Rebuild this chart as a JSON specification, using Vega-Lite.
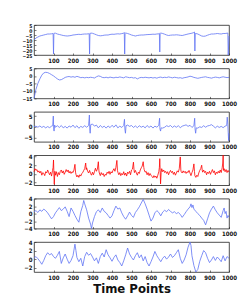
{
"$schema": "https://vega.github.io/schema/vega-lite/v6.json",
"padding": {"left": 5, "top": 22, "right": 5, "bottom": 2},
"background": "white",
"bounds": "flush",
"spacing": 13.4,
"datasets": {
"p1": [{"t":0,"v":-10},{"t":10,"v":-8},{"t":20,"v":-7},{"t":30,"v":-6},{"t":40,"v":-5.5},{"t":50,"v":-5},{"t":60,"v":-4.5},{"t":70,"v":-4},{"t":80,"v":-4},{"t":90,"v":-3.8},{"t":98,"v":-3.5},{"t":100,"v":-24},{"t":102,"v":-4},{"t":105,"v":-3},{"t":110,"v":-3.2},{"t":120,"v":-4},{"t":130,"v":-4.5},{"t":140,"v":-5},{"t":150,"v":-5.5},{"t":160,"v":-5.8},{"t":170,"v":-6},{"t":180,"v":-5.8},{"t":190,"v":-5.5},{"t":200,"v":-5},{"t":210,"v":-4.8},{"t":220,"v":-4.5},{"t":230,"v":-4.3},{"t":240,"v":-4.5},{"t":250,"v":-4.2},{"t":260,"v":-4},{"t":270,"v":-4},{"t":280,"v":-3.8},{"t":283,"v":-3.5},{"t":285,"v":-24},{"t":287,"v":-4},{"t":290,"v":-3},{"t":300,"v":-3.3},{"t":310,"v":-4},{"t":320,"v":-4.8},{"t":330,"v":-5.5},{"t":340,"v":-5.8},{"t":350,"v":-5.6},{"t":360,"v":-5.2},{"t":370,"v":-5},{"t":380,"v":-5},{"t":390,"v":-4.5},{"t":400,"v":-4.2},{"t":410,"v":-4.3},{"t":420,"v":-4},{"t":430,"v":-3.8},{"t":440,"v":-4},{"t":450,"v":-3.6},{"t":460,"v":-3.2},{"t":463,"v":-2.5},{"t":465,"v":-24},{"t":467,"v":-3.5},{"t":470,"v":-3},{"t":480,"v":-3.5},{"t":490,"v":-4.2},{"t":500,"v":-5},{"t":510,"v":-5.5},{"t":520,"v":-6},{"t":530,"v":-5.5},{"t":540,"v":-5.2},{"t":550,"v":-5},{"t":560,"v":-5},{"t":570,"v":-4.8},{"t":580,"v":-4.6},{"t":590,"v":-4.5},{"t":600,"v":-4.4},{"t":610,"v":-4.2},{"t":620,"v":-4.3},{"t":630,"v":-4},{"t":640,"v":-3.8},{"t":643,"v":-3.4},{"t":645,"v":-22},{"t":647,"v":-3.5},{"t":650,"v":-3},{"t":660,"v":-3.5},{"t":670,"v":-4.2},{"t":680,"v":-5},{"t":690,"v":-5.5},{"t":700,"v":-5.2},{"t":710,"v":-5},{"t":720,"v":-5},{"t":730,"v":-4.8},{"t":740,"v":-5},{"t":750,"v":-5.3},{"t":760,"v":-5.5},{"t":770,"v":-5},{"t":780,"v":-4.5},{"t":790,"v":-4},{"t":800,"v":-3.6},{"t":810,"v":-3.2},{"t":820,"v":-2.5},{"t":823,"v":-2},{"t":825,"v":-21},{"t":827,"v":-3.5},{"t":830,"v":-3.5},{"t":840,"v":-4},{"t":850,"v":-5},{"t":860,"v":-6},{"t":870,"v":-6.3},{"t":880,"v":-6},{"t":890,"v":-5.2},{"t":900,"v":-4.5},{"t":910,"v":-4},{"t":920,"v":-4},{"t":930,"v":-3.8},{"t":940,"v":-3.5},{"t":950,"v":-3.8},{"t":960,"v":-4},{"t":970,"v":-3.5},{"t":980,"v":-3.5},{"t":990,"v":-3.2},{"t":994,"v":-3},{"t":996,"v":-25},{"t":1000,"v":-6}],
"p2": [{"t":0,"v":-15},{"t":5,"v":-12},{"t":10,"v":-9},{"t":20,"v":-5},{"t":30,"v":-2},{"t":40,"v":0.5},{"t":50,"v":2},{"t":60,"v":2.4},{"t":70,"v":2.2},{"t":80,"v":1.6},{"t":90,"v":0.8},{"t":100,"v":0},{"t":110,"v":-1},{"t":120,"v":-2},{"t":130,"v":-2.7},{"t":140,"v":-2.5},{"t":150,"v":-1.8},{"t":160,"v":-1},{"t":170,"v":-0.6},{"t":180,"v":-0.4},{"t":190,"v":-0.8},{"t":200,"v":-0.5},{"t":210,"v":-0.9},{"t":220,"v":-0.3},{"t":230,"v":-0.7},{"t":240,"v":-1.2},{"t":250,"v":-1},{"t":260,"v":-1.3},{"t":270,"v":-1},{"t":280,"v":-1.2},{"t":290,"v":-0.9},{"t":300,"v":-1.1},{"t":310,"v":-1.4},{"t":320,"v":-0.6},{"t":330,"v":0},{"t":340,"v":-0.3},{"t":350,"v":-1},{"t":360,"v":-1.2},{"t":370,"v":-0.9},{"t":380,"v":-1.3},{"t":390,"v":-0.8},{"t":400,"v":-1.1},{"t":410,"v":-1.3},{"t":420,"v":-0.9},{"t":430,"v":-1.1},{"t":440,"v":-0.7},{"t":450,"v":-1},{"t":460,"v":-1.3},{"t":470,"v":-0.6},{"t":480,"v":-0.9},{"t":490,"v":-1.2},{"t":500,"v":-1},{"t":510,"v":-1.4},{"t":520,"v":-1.2},{"t":530,"v":-2},{"t":540,"v":-1.3},{"t":550,"v":-1},{"t":560,"v":-1.2},{"t":570,"v":-0.9},{"t":580,"v":-1.1},{"t":590,"v":-1.3},{"t":600,"v":-1},{"t":610,"v":-1.4},{"t":620,"v":-1.1},{"t":630,"v":-1.5},{"t":640,"v":-1},{"t":650,"v":-0.8},{"t":660,"v":-1.2},{"t":670,"v":-0.9},{"t":680,"v":-1.1},{"t":690,"v":-0.7},{"t":700,"v":-1},{"t":710,"v":-1.3},{"t":720,"v":-0.9},{"t":730,"v":-1.1},{"t":740,"v":-1.4},{"t":750,"v":-1.2},{"t":760,"v":-1.6},{"t":770,"v":-1.2},{"t":780,"v":-1},{"t":790,"v":-0.7},{"t":800,"v":-0.2},{"t":810,"v":-0.5},{"t":820,"v":-1},{"t":830,"v":-1.3},{"t":840,"v":-1.6},{"t":850,"v":-1.3},{"t":860,"v":-1},{"t":870,"v":-0.8},{"t":880,"v":-0.6},{"t":890,"v":-1},{"t":900,"v":-1.2},{"t":910,"v":-1.5},{"t":920,"v":-1.1},{"t":930,"v":-0.8},{"t":940,"v":-1},{"t":950,"v":-1.3},{"t":960,"v":-0.9},{"t":970,"v":-0.6},{"t":980,"v":-0.9},{"t":990,"v":-1.1},{"t":1000,"v":-1}],
"p3": [{"t":0,"v":0},{"t":10,"v":0.3},{"t":20,"v":-0.2},{"t":30,"v":0.4},{"t":40,"v":-0.3},{"t":50,"v":0.2},{"t":60,"v":-0.5},{"t":70,"v":0.1},{"t":80,"v":-0.4},{"t":90,"v":0.3},{"t":96,"v":0.5},{"t":99,"v":5},{"t":101,"v":-1},{"t":103,"v":-2},{"t":106,"v":0.8},{"t":110,"v":-0.2},{"t":120,"v":0.5},{"t":130,"v":-0.3},{"t":140,"v":0.6},{"t":150,"v":-0.5},{"t":160,"v":0.2},{"t":170,"v":-0.6},{"t":180,"v":0.4},{"t":190,"v":-0.2},{"t":200,"v":0.8},{"t":210,"v":-0.4},{"t":220,"v":0.5},{"t":230,"v":-0.7},{"t":240,"v":0.2},{"t":250,"v":-0.3},{"t":260,"v":0.5},{"t":270,"v":-0.2},{"t":280,"v":0.6},{"t":284,"v":5.5},{"t":286,"v":-1},{"t":288,"v":-3},{"t":291,"v":1},{"t":300,"v":1.3},{"t":310,"v":0.3},{"t":320,"v":0.8},{"t":330,"v":-0.5},{"t":340,"v":0.6},{"t":350,"v":-0.3},{"t":360,"v":0.3},{"t":370,"v":-0.6},{"t":380,"v":0.4},{"t":390,"v":-0.4},{"t":400,"v":0.7},{"t":410,"v":-0.2},{"t":420,"v":0.9},{"t":430,"v":-0.5},{"t":440,"v":0.3},{"t":450,"v":-0.3},{"t":460,"v":0.6},{"t":464,"v":3.5},{"t":466,"v":-1},{"t":469,"v":-3},{"t":472,"v":0.5},{"t":480,"v":0.8},{"t":490,"v":0.2},{"t":500,"v":0.6},{"t":510,"v":-0.3},{"t":520,"v":0.4},{"t":530,"v":-0.4},{"t":540,"v":0.5},{"t":550,"v":-0.2},{"t":560,"v":0.3},{"t":570,"v":-0.5},{"t":580,"v":0.6},{"t":590,"v":-0.3},{"t":600,"v":0.4},{"t":610,"v":-0.6},{"t":620,"v":0.3},{"t":630,"v":-0.2},{"t":640,"v":0.7},{"t":644,"v":4},{"t":646,"v":-1},{"t":649,"v":-2},{"t":652,"v":-0.5},{"t":660,"v":-0.6},{"t":670,"v":-0.2},{"t":680,"v":0.5},{"t":690,"v":0.1},{"t":700,"v":0.6},{"t":710,"v":-0.3},{"t":720,"v":0.4},{"t":730,"v":-0.2},{"t":740,"v":0.5},{"t":750,"v":-0.4},{"t":760,"v":0.3},{"t":770,"v":0.6},{"t":780,"v":0.9},{"t":790,"v":0.2},{"t":800,"v":0.7},{"t":810,"v":-0.3},{"t":820,"v":0.5},{"t":824,"v":4},{"t":826,"v":-1},{"t":829,"v":-3},{"t":832,"v":-0.5},{"t":840,"v":-0.6},{"t":850,"v":0},{"t":860,"v":-0.3},{"t":870,"v":0.5},{"t":880,"v":-0.2},{"t":890,"v":0.4},{"t":900,"v":0.6},{"t":910,"v":1},{"t":920,"v":0.3},{"t":930,"v":-0.5},{"t":940,"v":0.3},{"t":950,"v":-0.3},{"t":960,"v":0.2},{"t":970,"v":-0.4},{"t":980,"v":0.3},{"t":988,"v":0.6},{"t":991,"v":4.5},{"t":994,"v":1},{"t":998,"v":-6.5},{"t":1000,"v":-3}],
"p4": [{"t":0,"v":0.5},{"t":5,"v":1.2},{"t":10,"v":0.8},{"t":15,"v":1.0},{"t":20,"v":0.4},{"t":25,"v":0.7},{"t":30,"v":0.2},{"t":35,"v":0.6},{"t":40,"v":-0.3},{"t":45,"v":0.3},{"t":50,"v":0.1},{"t":55,"v":-0.4},{"t":60,"v":0.5},{"t":65,"v":0.2},{"t":70,"v":0.9},{"t":75,"v":0.3},{"t":80,"v":-0.2},{"t":85,"v":0.4},{"t":90,"v":-0.5},{"t":95,"v":0.8},{"t":98,"v":1.5},{"t":100,"v":3.2},{"t":102,"v":0.2},{"t":104,"v":-2.4},{"t":107,"v":0.6},{"t":110,"v":-0.3},{"t":115,"v":0.5},{"t":120,"v":-0.6},{"t":125,"v":0.3},{"t":130,"v":-0.2},{"t":135,"v":0.6},{"t":140,"v":0.9},{"t":145,"v":0.2},{"t":150,"v":0.7},{"t":155,"v":-0.1},{"t":160,"v":0.4},{"t":165,"v":1.0},{"t":170,"v":0.5},{"t":175,"v":0.9},{"t":180,"v":0.2},{"t":185,"v":0.6},{"t":190,"v":0.1},{"t":195,"v":0.5},{"t":200,"v":0.3},{"t":205,"v":0.9},{"t":210,"v":2.2},{"t":213,"v":0.4},{"t":215,"v":-0.1},{"t":220,"v":-0.7},{"t":225,"v":-0.3},{"t":230,"v":-0.8},{"t":235,"v":-0.2},{"t":240,"v":-0.5},{"t":245,"v":0.1},{"t":250,"v":0.3},{"t":255,"v":0.8},{"t":260,"v":1.2},{"t":265,"v":2.5},{"t":268,"v":1.0},{"t":270,"v":1.4},{"t":275,"v":0.6},{"t":280,"v":0.2},{"t":285,"v":0.8},{"t":290,"v":0.1},{"t":295,"v":-0.3},{"t":300,"v":0.4},{"t":305,"v":-0.2},{"t":310,"v":0.5},{"t":315,"v":1.3},{"t":320,"v":0.6},{"t":325,"v":1.1},{"t":330,"v":2.8},{"t":333,"v":0.7},{"t":335,"v":0.2},{"t":340,"v":-0.4},{"t":345,"v":0.3},{"t":350,"v":-0.2},{"t":355,"v":0.1},{"t":360,"v":-0.6},{"t":365,"v":-0.1},{"t":370,"v":-0.3},{"t":375,"v":0.4},{"t":380,"v":0.1},{"t":385,"v":0.6},{"t":390,"v":-0.1},{"t":395,"v":0.5},{"t":400,"v":0.2},{"t":405,"v":0.8},{"t":410,"v":1.2},{"t":415,"v":0.6},{"t":420,"v":1.5},{"t":425,"v":3.1},{"t":428,"v":0.8},{"t":430,"v":0.4},{"t":435,"v":-0.2},{"t":440,"v":0.3},{"t":445,"v":-0.4},{"t":450,"v":0.1},{"t":455,"v":-0.2},{"t":460,"v":0.5},{"t":465,"v":-0.3},{"t":470,"v":0.2},{"t":475,"v":-0.5},{"t":480,"v":0.4},{"t":485,"v":0.1},{"t":490,"v":0.6},{"t":495,"v":-0.2},{"t":500,"v":0.9},{"t":505,"v":1.1},{"t":510,"v":2.7},{"t":513,"v":0.9},{"t":515,"v":0.3},{"t":520,"v":0.8},{"t":525,"v":0.2},{"t":530,"v":-0.3},{"t":535,"v":0.4},{"t":540,"v":0.1},{"t":545,"v":0.9},{"t":550,"v":1.4},{"t":555,"v":1.8},{"t":560,"v":2.8},{"t":563,"v":1.5},{"t":565,"v":1.0},{"t":570,"v":0.4},{"t":575,"v":0.6},{"t":580,"v":-0.2},{"t":585,"v":0.3},{"t":590,"v":-0.4},{"t":595,"v":0.1},{"t":600,"v":-0.3},{"t":605,"v":-0.6},{"t":610,"v":-0.9},{"t":615,"v":-0.4},{"t":620,"v":-0.8},{"t":625,"v":-0.5},{"t":630,"v":-1.0},{"t":635,"v":-0.3},{"t":640,"v":0.5},{"t":643,"v":1.5},{"t":645,"v":3.5},{"t":647,"v":0.8},{"t":649,"v":-2.3},{"t":652,"v":0.3},{"t":655,"v":1.2},{"t":660,"v":0.5},{"t":665,"v":0.9},{"t":670,"v":0.3},{"t":675,"v":0.6},{"t":680,"v":0.1},{"t":685,"v":0.5},{"t":690,"v":-0.2},{"t":695,"v":0.4},{"t":700,"v":0.8},{"t":705,"v":0.3},{"t":710,"v":0.6},{"t":715,"v":-0.1},{"t":720,"v":0.4},{"t":725,"v":-0.3},{"t":730,"v":0.2},{"t":735,"v":0.7},{"t":740,"v":0.4},{"t":745,"v":1.2},{"t":750,"v":3.9},{"t":753,"v":0.9},{"t":755,"v":0.5},{"t":760,"v":0.2},{"t":765,"v":0.7},{"t":770,"v":0.3},{"t":775,"v":0.6},{"t":780,"v":0.1},{"t":785,"v":0.5},{"t":790,"v":0.3},{"t":795,"v":0.8},{"t":800,"v":0.2},{"t":805,"v":-0.4},{"t":810,"v":0.3},{"t":815,"v":0.9},{"t":820,"v":2.3},{"t":823,"v":0.5},{"t":825,"v":-0.4},{"t":830,"v":-0.8},{"t":835,"v":-0.3},{"t":840,"v":-0.6},{"t":845,"v":0.2},{"t":850,"v":0.8},{"t":855,"v":1.2},{"t":860,"v":2.0},{"t":863,"v":0.7},{"t":865,"v":0.4},{"t":870,"v":0.9},{"t":875,"v":0.3},{"t":880,"v":0.6},{"t":885,"v":-0.2},{"t":890,"v":0.4},{"t":895,"v":0.1},{"t":900,"v":0.6},{"t":905,"v":-0.1},{"t":910,"v":0.5},{"t":915,"v":1.0},{"t":920,"v":0.3},{"t":925,"v":0.7},{"t":930,"v":-0.2},{"t":935,"v":0.4},{"t":940,"v":0.1},{"t":945,"v":0.6},{"t":950,"v":0.2},{"t":955,"v":0.9},{"t":960,"v":0.3},{"t":965,"v":1.4},{"t":968,"v":2.5},{"t":970,"v":4.3},{"t":972,"v":0.8},{"t":975,"v":1.2},{"t":980,"v":0.5},{"t":985,"v":1.0},{"t":990,"v":0.3},{"t":995,"v":0.8},{"t":1000,"v":0.4}],
"p5": [{"t":0,"v":0.5},{"t":10,"v":0.8},{"t":20,"v":0.3},{"t":30,"v":1.0},{"t":40,"v":0.6},{"t":50,"v":1.2},{"t":60,"v":0.8},{"t":70,"v":0.2},{"t":80,"v":-0.6},{"t":90,"v":-1.4},{"t":100,"v":-0.8},{"t":110,"v":0.2},{"t":120,"v":0.9},{"t":130,"v":1.6},{"t":140,"v":0.8},{"t":150,"v":1.2},{"t":160,"v":1.8},{"t":170,"v":0.6},{"t":180,"v":-0.8},{"t":190,"v":1.5},{"t":200,"v":0.6},{"t":210,"v":-0.5},{"t":220,"v":-1.5},{"t":230,"v":-2.3},{"t":240,"v":0.5},{"t":250,"v":2.2},{"t":255,"v":3.5},{"t":260,"v":2.6},{"t":270,"v":1.0},{"t":280,"v":-1.2},{"t":290,"v":-2.8},{"t":295,"v":-4},{"t":300,"v":-2.5},{"t":310,"v":-0.8},{"t":320,"v":0.5},{"t":330,"v":1.0},{"t":340,"v":0.3},{"t":350,"v":1.5},{"t":360,"v":0.6},{"t":370,"v":0.2},{"t":380,"v":-0.5},{"t":390,"v":-1.2},{"t":400,"v":-0.6},{"t":410,"v":0.8},{"t":420,"v":2.0},{"t":430,"v":1.2},{"t":440,"v":1.5},{"t":450,"v":0.2},{"t":460,"v":-0.8},{"t":470,"v":-1.5},{"t":480,"v":-0.6},{"t":490,"v":0.4},{"t":500,"v":-0.5},{"t":510,"v":-1.0},{"t":520,"v":0.3},{"t":530,"v":1.0},{"t":540,"v":1.8},{"t":550,"v":2.8},{"t":560,"v":3.8},{"t":570,"v":2.6},{"t":580,"v":1.2},{"t":590,"v":-0.4},{"t":600,"v":-2.0},{"t":610,"v":-1.2},{"t":620,"v":0.2},{"t":630,"v":0.8},{"t":640,"v":0.3},{"t":650,"v":-0.6},{"t":660,"v":0.4},{"t":670,"v":0.9},{"t":680,"v":0.5},{"t":690,"v":1.1},{"t":700,"v":0.6},{"t":710,"v":0.2},{"t":720,"v":0.5},{"t":730,"v":0.0},{"t":740,"v":0.3},{"t":750,"v":-0.2},{"t":760,"v":-1.0},{"t":770,"v":-0.3},{"t":780,"v":0.5},{"t":790,"v":1.2},{"t":800,"v":1.8},{"t":805,"v":2.6},{"t":810,"v":1.6},{"t":815,"v":2.3},{"t":820,"v":1.2},{"t":830,"v":0.6},{"t":840,"v":0.0},{"t":850,"v":-0.5},{"t":860,"v":-1.2},{"t":870,"v":-1.8},{"t":880,"v":-3.0},{"t":890,"v":-1.4},{"t":900,"v":0.2},{"t":910,"v":1.2},{"t":920,"v":2.0},{"t":930,"v":1.0},{"t":940,"v":0.2},{"t":950,"v":-0.4},{"t":960,"v":-1.0},{"t":970,"v":0.8},{"t":975,"v":1.5},{"t":980,"v":0.0},{"t":985,"v":0.6},{"t":990,"v":-1.2},{"t":995,"v":-0.5},{"t":1000,"v":-1.0}],
"p6": [{"t":0,"v":0.2},{"t":10,"v":0.6},{"t":20,"v":0.1},{"t":30,"v":-0.5},{"t":40,"v":-1.2},{"t":50,"v":-0.3},{"t":60,"v":0.8},{"t":70,"v":1.5},{"t":80,"v":1.0},{"t":90,"v":1.3},{"t":100,"v":0.6},{"t":110,"v":0.2},{"t":120,"v":0.9},{"t":130,"v":1.8},{"t":140,"v":-1.0},{"t":150,"v":0.3},{"t":160,"v":1.2},{"t":170,"v":0.0},{"t":180,"v":-1.0},{"t":190,"v":-0.3},{"t":200,"v":0.8},{"t":210,"v":3.5},{"t":215,"v":2.0},{"t":220,"v":0.4},{"t":230,"v":-0.6},{"t":240,"v":0.2},{"t":250,"v":-1.6},{"t":260,"v":0.6},{"t":270,"v":1.6},{"t":280,"v":0.9},{"t":290,"v":1.3},{"t":300,"v":0.5},{"t":310,"v":-0.4},{"t":320,"v":0.3},{"t":330,"v":-1.0},{"t":340,"v":0.6},{"t":350,"v":1.4},{"t":360,"v":0.5},{"t":370,"v":2.2},{"t":380,"v":1.0},{"t":390,"v":0.3},{"t":400,"v":-0.5},{"t":410,"v":0.4},{"t":420,"v":1.0},{"t":430,"v":-0.2},{"t":440,"v":-0.8},{"t":450,"v":-1.6},{"t":460,"v":-0.4},{"t":470,"v":1.0},{"t":480,"v":2.6},{"t":490,"v":1.2},{"t":500,"v":0.4},{"t":510,"v":-0.2},{"t":520,"v":0.8},{"t":530,"v":1.5},{"t":540,"v":0.3},{"t":550,"v":1.0},{"t":560,"v":-0.4},{"t":570,"v":0.6},{"t":580,"v":-0.8},{"t":590,"v":-1.6},{"t":600,"v":-0.6},{"t":610,"v":0.5},{"t":620,"v":1.8},{"t":630,"v":0.8},{"t":640,"v":0.1},{"t":650,"v":-0.6},{"t":660,"v":0.2},{"t":670,"v":0.7},{"t":680,"v":0.0},{"t":690,"v":0.5},{"t":700,"v":1.2},{"t":710,"v":0.4},{"t":720,"v":0.8},{"t":730,"v":1.5},{"t":740,"v":2.2},{"t":750,"v":0.2},{"t":760,"v":-1.0},{"t":770,"v":-0.2},{"t":780,"v":1.0},{"t":790,"v":2.8},{"t":800,"v":4.0},{"t":805,"v":3.2},{"t":810,"v":0.8},{"t":820,"v":-1.5},{"t":830,"v":-3.0},{"t":840,"v":-2.4},{"t":850,"v":-0.5},{"t":860,"v":0.8},{"t":870,"v":2.0},{"t":880,"v":1.5},{"t":890,"v":0.2},{"t":900,"v":-0.8},{"t":910,"v":-0.2},{"t":920,"v":0.6},{"t":930,"v":-0.3},{"t":940,"v":0.5},{"t":950,"v":0.0},{"t":960,"v":-0.6},{"t":970,"v":0.8},{"t":980,"v":-0.4},{"t":990,"v":0.6},{"t":1000,"v":0.2}]
},
"vconcat": [
{"width":195,"height":30,"data":{"name":"p1"},"mark":{"type":"line","color":"#5f73f4","strokeWidth":0.8},
 "encoding":{"x":{"field":"t","type":"quantitative","scale":{"domain":[0,1000]},"axis":{"title":null,"values":[100,200,300,400,500,600,700,800,900,1000]}},
 "y":{"field":"v","type":"quantitative","scale":{"domain":[-25,5]},"axis":{"title":null,"labelFontSize":5,"values":[5,0,-5,-10,-15,-20,-25]}}}},
{"width":195,"height":30,"data":{"name":"p2"},"mark":{"type":"line","color":"#5f73f4","strokeWidth":0.8},
 "encoding":{"x":{"field":"t","type":"quantitative","scale":{"domain":[0,1000]},"axis":{"title":null,"values":[100,200,300,400,500,600,700,800,900,1000]}},
 "y":{"field":"v","type":"quantitative","scale":{"domain":[-15,5]},"axis":{"title":null,"labelFontSize":5,"values":[5,0,-5,-10,-15]}}}},
{"width":195,"height":30,"data":{"name":"p3"},"mark":{"type":"line","color":"#5f73f4","strokeWidth":0.8},
 "encoding":{"x":{"field":"t","type":"quantitative","scale":{"domain":[0,1000]},"axis":{"title":null,"values":[100,200,300,400,500,600,700,800,900,1000]}},
 "y":{"field":"v","type":"quantitative","scale":{"domain":[-7,7]},"axis":{"title":null,"values":[5,0,-5]}}}},
{"width":195,"height":30,"data":{"name":"p4"},"mark":{"type":"line","color":"#ff0000","strokeWidth":0.8},
 "encoding":{"x":{"field":"t","type":"quantitative","scale":{"domain":[0,1000]},"axis":{"title":null,"values":[100,200,300,400,500,600,700,800,900,1000]}},
 "y":{"field":"v","type":"quantitative","scale":{"domain":[-2.6,4.3]},"axis":{"title":null,"values":[4,2,0,-2]}}}},
{"width":195,"height":30,"data":{"name":"p5"},"mark":{"type":"line","color":"#5f73f4","strokeWidth":0.8},
 "encoding":{"x":{"field":"t","type":"quantitative","scale":{"domain":[0,1000]},"axis":{"title":null,"values":[100,200,300,400,500,600,700,800,900,1000]}},
 "y":{"field":"v","type":"quantitative","scale":{"domain":[-4,4]},"axis":{"title":null,"values":[4,2,0,-2,-4]}}}},
{"width":195,"height":30,"data":{"name":"p6"},"mark":{"type":"line","color":"#5f73f4","strokeWidth":0.8},
 "encoding":{"x":{"field":"t","type":"quantitative","scale":{"domain":[0,1000]},"axis":{"title":"Time Points","values":[100,200,300,400,500,600,700,800,900,1000]}},
 "y":{"field":"v","type":"quantitative","scale":{"domain":[-3,4]},"axis":{"title":null,"values":[4,2,0,-2]}}}}
],
"config": {
 "view": {"stroke": "#222", "strokeWidth": 0.8},
 "axis": {"domain": false, "grid": false, "tickSize": -2, "tickColor": "#222", "tickWidth": 0.6,
   "labelFont": "DejaVu Sans Condensed, Liberation Sans, sans-serif", "labelFontSize": 6, "labelFontWeight": "bold", "labelColor": "#111",
   "labelPadding": 4, "labelOverlap": false, "labelFlush": false, "format": "d",
   "titleFont": "DejaVu Sans Condensed, Liberation Sans, sans-serif", "titleFontSize": 13, "titleFontWeight": "bold", "titleColor": "#111", "titlePadding": 2},
 "axisY": {"minExtent": 28, "maxExtent": 28}
}
}
